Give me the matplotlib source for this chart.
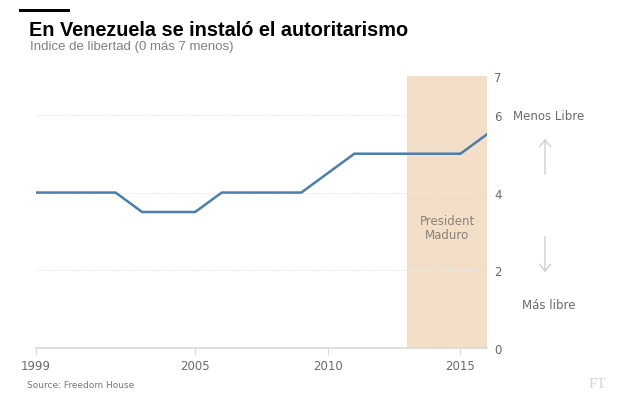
import matplotlib
matplotlib.use("Agg")
import matplotlib.pyplot as plt
from matplotlib.patches import FancyArrowPatch

years = list(range(1999, 2017))
index_values = [4, 4, 4, 4, 3.5, 3.5, 3.5, 4, 4, 4, 4, 4.5, 5, 5, 5, 5, 5, 5.5]
xticks = [1999, 2005, 2010, 2015]
yticks = [0, 2, 4, 6, 7]
maduro_start, maduro_end = 2013, 2016

fig = plt.figure(figsize=(6.4, 4.06), dpi=100)
ax = fig.add_axes([36/640, 1-349/406, (487-36)/640, (349-77)/406])

ax.axvspan(maduro_start, maduro_end, color="#f3dfc8", zorder=0, lw=0)
ax.plot(years, index_values, color="#4a7eab", lw=1.8, zorder=3, solid_joinstyle="miter")

ax.set_xlim(1999, 2016)
ax.set_ylim(0, 7)
for y in [2, 4, 6]:
    ax.axhline(y, color="#e8e8e8", lw=0.8, ls=(0, (1, 1)), zorder=1)
ax.axhline(0, color="#d9d9d9", lw=1.2, zorder=2, clip_on=False)

for s in ax.spines.values():
    s.set_visible(False)
ax.yaxis.tick_right()
ax.set_yticks(yticks)
ax.set_yticklabels([str(v) for v in yticks])
ax.tick_params(axis="y", length=0, pad=5, labelsize=8.5, labelcolor="#6a6a6a")
ax.set_xticks(xticks)
ax.set_xticklabels([str(v) for v in xticks])
ax.tick_params(axis="x", length=5, width=0.8, color="#d9d9d9", pad=3, labelsize=8.5, labelcolor="#6a6a6a")

ax.text((maduro_start + maduro_end) / 2, 3.1, "President\nMaduro", ha="center", va="center",
        fontsize=8.5, color="#8a8178", linespacing=1.1)

fig.text(549/640, 1-117/406, "Menos Libre", ha="center", va="center", fontsize=8.5, color="#6a6a6a")
fig.text(549/640, 1-306/406, "Más libre", ha="center", va="center", fontsize=8.5, color="#6a6a6a")
fig.patches.append(FancyArrowPatch((545/640, 1-178/406), (545/640, 1-137/406), transform=fig.transFigure,
                                   arrowstyle="->,head_length=5,head_width=4", color="#cfcfcf", lw=1))
fig.patches.append(FancyArrowPatch((545/640, 1-235/406), (545/640, 1-276/406), transform=fig.transFigure,
                                   arrowstyle="->,head_length=5,head_width=4", color="#cfcfcf", lw=1))

fig.patches.append(plt.Rectangle((19/640, 1-13/406), 51/640, 3/406, transform=fig.transFigure,
                                 color="black", lw=0))
fig.text(29/640, 1-30/406, "En Venezuela se instaló el autoritarismo", ha="left", va="center",
         fontsize=14.3, fontweight="bold", family="Liberation Sans", color="black")
fig.text(30/640, 1-47/406, "Indice de libertad (0 más 7 menos)", ha="left", va="center",
         fontsize=9.5, family="Liberation Sans", color="#808080")
fig.text(27/640, 1-386/406, "Source: Freedom House", ha="left", va="center",
         fontsize=6.5, color="#777777")
fig.text(597/640, 1-385/406, "FT", ha="center", va="center", fontsize=11, family="Liberation Serif",
         color="#d5d5d5")

fig.savefig("out.png", dpi=100)
